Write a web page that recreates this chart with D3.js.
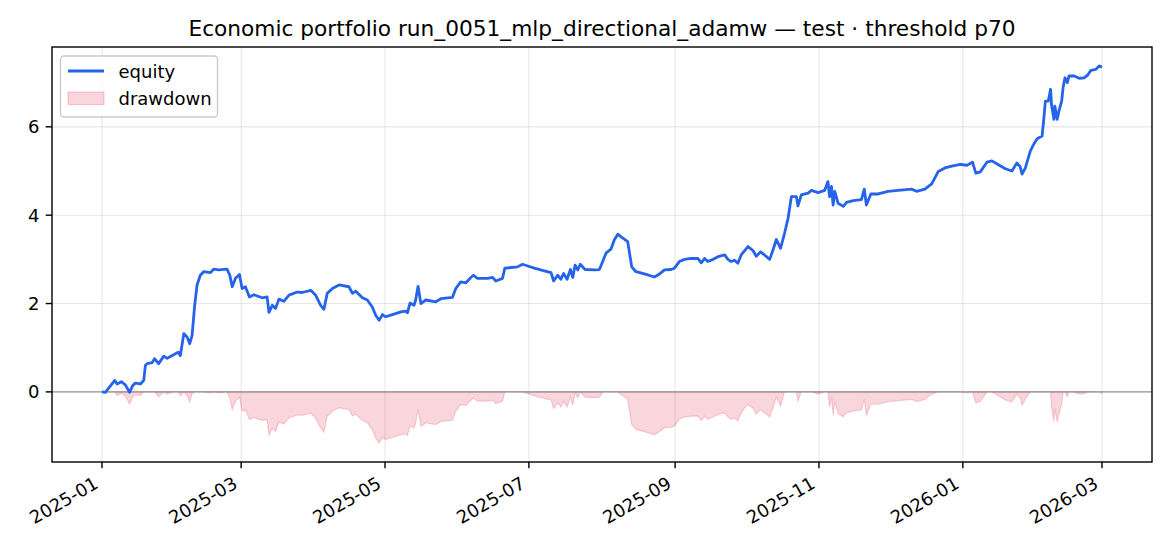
<!DOCTYPE html>
<html>
<head>
<meta charset="utf-8">
<script src="https://cdn.jsdelivr.net/npm/d3@7"></script>
<style>
  body { margin: 0; background: #fff; }
  svg { display: block; font-family: "DejaVu Sans", sans-serif; }
</style>
</head>
<body>
<svg></svg>
<script>
const width = 1170;
const height = 546;
const margin = { top: 47, right: 18, bottom: 84, left: 52 };

const title = 'Economic portfolio run_0051_mlp_directional_adamw — test · threshold p70';
const startDate = '2025-01-01';

// days since startDate
const days = [
  0, 1.4, 3.5, 5.4, 6.4, 8.2, 9.9, 11.7, 13, 14.1, 16.3, 17.7, 18.4, 19.1, 21.2, 22.3, 24, 26.2, 27.6, 30.4,
  32.3, 33.2, 34.7, 36.1, 37.2, 38.2, 39.3, 40.3, 41.7, 43.1, 46, 47.4, 49.5, 53, 54.2, 55.2, 56.6, 58.3, 59.4, 60.8,
  62.5, 64.4, 67.9, 70, 70.8, 72.2, 73.6, 75, 77.1, 79.3, 82.8, 84.9, 88.5, 90.6, 92.7, 94.1, 95.5, 97.7, 100.5, 104.7,
  106.2, 107.6, 110.4, 112.5, 114.6, 116.1, 117.5, 118.9, 120.3, 123.8, 126.7, 128.8, 129.5, 130.6, 132.3, 133, 134, 135.2, 137.3, 141.5,
  143.7, 148.6, 150, 152.1, 154.3, 156.4, 157.5, 159.2, 163.5, 165.6, 167, 169.8, 170.8, 172.7, 176.2, 178.3, 180.5, 183.3, 187.5, 190.4,
  191.5, 193.2, 194.6, 195.7, 197.2, 198.6, 199.6, 200.6, 201.7, 202.8, 204.8, 208.8, 210.9, 212.3, 213.7, 215.8, 217.2, 218.7, 220.1, 222.9,
  224.6, 226.4, 230, 234.2, 236.4, 238.5, 241.3, 242.7, 244.8, 247, 249.8, 252.7, 254.1, 255.5, 256.9, 259.1, 261.2, 264, 265.4, 266.8,
  268.2, 269.6, 271, 273.9, 276, 277.4, 279.2, 280.9, 283.1, 284.5, 285.9, 287.7, 289.4, 290.9, 292.3, 294.4, 295.1, 296.5, 299.4, 300.8,
  303.6, 306.4, 307.8, 308.5, 309.3, 310, 310.7, 312.1, 314.3, 315.7, 318.5, 322, 323.2, 324.1, 326, 329.1, 333.3, 337.6, 343.2, 345.4,
  348.9, 351.8, 354.6, 357.4, 360.3, 363.9, 366.7, 369.1, 370.5, 372.4, 375.2, 377.3, 380.1, 383, 385.8, 387.9, 389.3, 390.1, 391.5, 393.6,
  395, 396.5, 398.6, 399.3, 400, 401.2, 402.2, 402.6, 403.6, 404, 405, 405.7, 406.9, 407.5, 408.3, 409.3, 410, 412.2, 414.3, 416.4,
  417.9, 419.3, 421.4, 422.8, 424
];

const equity = [
  0.00, -0.01, 0.13, 0.26, 0.18, 0.23, 0.16, -0.01, 0.14, 0.20, 0.18, 0.26, 0.60, 0.64, 0.66, 0.75, 0.64, 0.81, 0.76, 0.84,
  0.90, 0.82, 1.32, 1.24, 1.09, 1.28, 1.96, 2.42, 2.64, 2.72, 2.70, 2.78, 2.76, 2.78, 2.64, 2.38, 2.57, 2.66, 2.34, 2.38,
  2.15, 2.20, 2.13, 2.15, 1.80, 1.96, 1.89, 2.10, 2.05, 2.19, 2.26, 2.25, 2.30, 2.19, 1.96, 1.87, 2.23, 2.34, 2.42, 2.38,
  2.23, 2.28, 2.13, 2.08, 1.92, 1.73, 1.62, 1.75, 1.70, 1.76, 1.81, 1.83, 1.79, 2.01, 1.96, 2.08, 2.39, 2.00, 2.08, 2.04,
  2.11, 2.14, 2.34, 2.49, 2.47, 2.59, 2.64, 2.57, 2.57, 2.59, 2.51, 2.57, 2.80, 2.81, 2.83, 2.89, 2.85, 2.80, 2.74, 2.70,
  2.51, 2.64, 2.55, 2.68, 2.55, 2.77, 2.59, 2.87, 2.76, 2.89, 2.77, 2.76, 2.77, 2.95, 3.14, 3.23, 3.44, 3.57, 3.51, 3.40,
  2.83, 2.72, 2.67, 2.60, 2.67, 2.76, 2.77, 2.80, 2.95, 3.00, 3.02, 3.02, 2.92, 3.02, 2.95, 3.00, 3.06, 3.10, 3.00, 2.95,
  2.98, 2.91, 3.10, 3.29, 3.20, 3.07, 3.17, 3.10, 3.00, 3.21, 3.45, 3.25, 3.59, 3.93, 4.42, 4.42, 4.21, 4.46, 4.50, 4.56,
  4.51, 4.56, 4.76, 4.42, 4.65, 4.23, 4.54, 4.27, 4.20, 4.29, 4.33, 4.35, 4.59, 4.23, 4.48, 4.48, 4.54, 4.56, 4.59, 4.54,
  4.59, 4.71, 4.99, 5.07, 5.11, 5.15, 5.13, 5.20, 4.95, 4.98, 5.20, 5.23, 5.14, 5.05, 5.00, 5.18, 5.10, 4.93, 5.07, 5.45,
  5.60, 5.73, 5.79, 6.17, 6.58, 6.58, 6.85, 6.50, 6.17, 6.47, 6.17, 6.35, 6.58, 6.89, 7.11, 7.00, 7.15, 7.15, 7.10, 7.11,
  7.17, 7.28, 7.30, 7.38, 7.35
];

const drawdown = [
  0.00, -0.01, 0.00, 0.00, -0.08, -0.03, -0.10, -0.27, -0.12, -0.06, -0.08, 0.00, 0.00, 0.00, 0.00, 0.00, -0.11, 0.00, -0.05, 0.00,
  0.00, -0.08, 0.00, -0.08, -0.23, -0.04, 0.00, 0.00, 0.00, 0.00, -0.02, 0.00, -0.02, 0.00, -0.14, -0.40, -0.21, -0.12, -0.44, -0.40,
  -0.63, -0.58, -0.65, -0.63, -0.98, -0.82, -0.89, -0.68, -0.73, -0.59, -0.52, -0.53, -0.48, -0.59, -0.82, -0.91, -0.55, -0.44, -0.36, -0.40,
  -0.55, -0.50, -0.65, -0.70, -0.86, -1.05, -1.16, -1.03, -1.08, -1.02, -0.97, -0.95, -0.99, -0.77, -0.82, -0.70, -0.39, -0.78, -0.70, -0.74,
  -0.67, -0.64, -0.44, -0.29, -0.31, -0.19, -0.14, -0.21, -0.21, -0.19, -0.27, -0.21, 0.00, 0.00, 0.00, 0.00, -0.04, -0.09, -0.15, -0.19,
  -0.38, -0.25, -0.34, -0.21, -0.34, -0.12, -0.30, -0.02, -0.13, 0.00, -0.12, -0.13, -0.12, 0.00, 0.00, 0.00, 0.00, 0.00, -0.06, -0.17,
  -0.74, -0.85, -0.90, -0.97, -0.90, -0.81, -0.80, -0.77, -0.62, -0.57, -0.55, -0.55, -0.65, -0.55, -0.62, -0.57, -0.51, -0.47, -0.57, -0.62,
  -0.59, -0.66, -0.47, -0.28, -0.37, -0.50, -0.40, -0.47, -0.57, -0.36, -0.12, -0.32, 0.00, 0.00, 0.00, 0.00, -0.21, 0.00, 0.00, 0.00,
  -0.05, 0.00, 0.00, -0.34, -0.11, -0.53, -0.22, -0.49, -0.56, -0.47, -0.43, -0.41, -0.17, -0.53, -0.28, -0.28, -0.22, -0.20, -0.17, -0.22,
  -0.17, -0.05, 0.00, 0.00, 0.00, 0.00, -0.02, 0.00, -0.25, -0.22, 0.00, 0.00, -0.09, -0.18, -0.23, -0.05, -0.13, -0.30, -0.16, 0.00,
  0.00, 0.00, 0.00, 0.00, 0.00, 0.00, 0.00, -0.35, -0.68, -0.38, -0.68, -0.50, -0.27, 0.00, 0.00, -0.11, 0.00, 0.00, -0.05, -0.04,
  0.00, 0.00, 0.00, 0.00, -0.03
];

const xTickLabels = ['2025-01', '2025-03', '2025-05', '2025-07', '2025-09', '2025-11', '2026-01', '2026-03'];
const yTicks = [0, 2, 4, 6];

const fontSize = 18;
const parseDay = d3.utcParse('%Y-%m-%d');
const parseMonth = d3.utcParse('%Y-%m');
const t0 = parseDay(startDate);
const data = days.map((d, i) => ({
  date: new Date(t0.getTime() + d * 864e5),
  eq: equity[i],
  dd: drawdown[i]
}));

const svg = d3.select('svg')
  .attr('width', width)
  .attr('height', height);

// matplotlib-like 5% padding
const pad = (lo, hi) => { const p = (hi - lo) * 0.05; return [lo - p, hi + p]; };
const [xLo, xHi] = d3.extent(data, d => d.date.getTime());
const xDom = pad(xLo, xHi);
const yDom = pad(d3.min(drawdown), d3.max(equity));

const xScale = d3.scaleUtc()
  .domain(xDom.map(t => new Date(t)))
  .range([margin.left, width - margin.right]);

const yScale = d3.scaleLinear()
  .domain(yDom)
  .range([height - margin.bottom, margin.top]);

const x0 = margin.left, x1 = width - margin.right;
const y0 = margin.top, y1 = height - margin.bottom;
const tickDates = xTickLabels.map(parseMonth);

// grid
const grid = svg.append('g').attr('class', 'grid');
grid.selectAll('.gx')
  .data(tickDates)
  .enter().append('line')
  .attr('x1', d => xScale(d)).attr('x2', d => xScale(d))
  .attr('y1', y0).attr('y2', y1)
  .attr('stroke', '#b0b0b0').attr('stroke-opacity', 0.3).attr('stroke-width', 1.1);
grid.selectAll('.gy')
  .data(yTicks)
  .enter().append('line')
  .attr('x1', x0).attr('x2', x1)
  .attr('y1', d => yScale(d)).attr('y2', d => yScale(d))
  .attr('stroke', '#b0b0b0').attr('stroke-opacity', 0.3).attr('stroke-width', 1.1);

// drawdown area
const area = d3.area()
  .x(d => xScale(d.date))
  .y0(yScale(0))
  .y1(d => yScale(d.dd));

svg.append('path')
  .datum(data)
  .attr('d', area)
  .attr('fill', 'crimson').attr('fill-opacity', 0.18)
  .attr('stroke', 'crimson').attr('stroke-opacity', 0.18).attr('stroke-width', 1.2);

// zero line
svg.append('line')
  .attr('x1', x0).attr('x2', x1)
  .attr('y1', yScale(0)).attr('y2', yScale(0))
  .attr('stroke', '#808080').attr('stroke-opacity', 0.8).attr('stroke-width', 1.4);

// equity line
const line = d3.line()
  .x(d => xScale(d.date))
  .y(d => yScale(d.eq));

svg.append('path')
  .datum(data)
  .attr('d', line)
  .attr('fill', 'none')
  .attr('stroke', '#2563eb')
  .attr('stroke-width', 2.8)
  .attr('stroke-linejoin', 'round');

// axes frame
svg.append('rect')
  .attr('x', x0).attr('y', y0)
  .attr('width', x1 - x0).attr('height', y1 - y0)
  .attr('fill', 'none').attr('stroke', '#000').attr('stroke-width', 1.4);

// x ticks
const xAxis = svg.append('g').attr('id', 'x-axis');
xAxis.selectAll('line')
  .data(tickDates)
  .enter().append('line')
  .attr('x1', d => xScale(d)).attr('x2', d => xScale(d))
  .attr('y1', y1).attr('y2', y1 + 6.3)
  .attr('stroke', '#000').attr('stroke-width', 1.4);
xAxis.selectAll('text')
  .data(tickDates)
  .enter().append('text')
  .attr('transform', d => `translate(${xScale(d) - 2.5},${y1 + 25}) rotate(-30)`)
  .attr('text-anchor', 'end')
  .attr('font-size', fontSize)
  .attr('fill', '#000')
  .text((d, i) => xTickLabels[i]);

// y ticks
const yAxis = svg.append('g').attr('id', 'y-axis');
yAxis.selectAll('line')
  .data(yTicks)
  .enter().append('line')
  .attr('x1', x0 - 6.3).attr('x2', x0)
  .attr('y1', d => yScale(d)).attr('y2', d => yScale(d))
  .attr('stroke', '#000').attr('stroke-width', 1.4);
yAxis.selectAll('text')
  .data(yTicks)
  .enter().append('text')
  .attr('x', x0 - 12.6)
  .attr('y', d => yScale(d))
  .attr('dy', '0.36em')
  .attr('text-anchor', 'end')
  .attr('font-size', fontSize)
  .attr('fill', '#000')
  .text(d => d);

// title
svg.append('text')
  .attr('x', (x0 + x1) / 2)
  .attr('y', 35.5)
  .attr('text-anchor', 'middle')
  .attr('font-size', 21.7)
  .attr('fill', '#000')
  .text(title);

// legend
const legend = svg.append('g').attr('transform', `translate(${x0 + 8.5},${y0 + 9})`);
legend.append('rect')
  .attr('width', 157).attr('height', 61).attr('rx', 3.5)
  .attr('fill', '#fff').attr('fill-opacity', 0.8)
  .attr('stroke', '#cccccc').attr('stroke-width', 1.4);
legend.append('line')
  .attr('x1', 7.5).attr('x2', 43.5).attr('y1', 15).attr('y2', 15)
  .attr('stroke', '#2563eb').attr('stroke-width', 2.8);
legend.append('rect')
  .attr('x', 7.5).attr('y', 36).attr('width', 36).attr('height', 12.6)
  .attr('fill', 'crimson').attr('fill-opacity', 0.18)
  .attr('stroke', 'crimson').attr('stroke-opacity', 0.18).attr('stroke-width', 1.2);
legend.append('text')
  .attr('x', 58).attr('y', 21.5)
  .attr('font-size', fontSize).attr('fill', '#000')
  .text('equity');
legend.append('text')
  .attr('x', 58).attr('y', 49)
  .attr('font-size', fontSize).attr('fill', '#000')
  .text('drawdown');
</script>
</body>
</html>
